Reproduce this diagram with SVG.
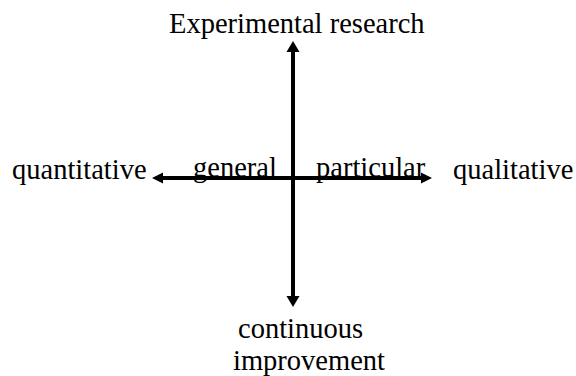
<svg xmlns="http://www.w3.org/2000/svg" width="576" height="376" viewBox="0 0 576 376">
<style>
text{font-family:"Liberation Serif","Times New Roman",serif;font-size:28.5px;fill:#000}
.ax{stroke:#000;stroke-width:4;fill:none}
.hd{fill:#000;stroke:none}
</style>
<rect width="576" height="376" fill="#fff"/>
<g id="connectors">
<line class="ax" x1="293" y1="50" x2="293" y2="298"/>
<polygon class="hd" points="293,41 299.5,52 286.5,52"/>
<polygon class="hd" points="293,307 299.5,296 286.5,296"/>
<line class="ax" x1="160" y1="178" x2="424" y2="178"/>
<polygon class="hd" points="152,178 163,172.5 163,183.5"/>
<polygon class="hd" points="432,178 421,172.5 421,183.5"/>
</g>
<g id="top"><text x="169" y="33">Experimental research</text></g>
<g id="left"><text x="12" y="179">quantitative</text></g>
<g id="general"><text x="193" y="177">general</text></g>
<g id="particular"><text x="316" y="177">particular</text></g>
<g id="right"><text x="453" y="179">qualitative</text></g>
<g id="bottom"><text x="238" y="338">continuous</text><text x="233" y="370">improvement</text></g>
</svg>
